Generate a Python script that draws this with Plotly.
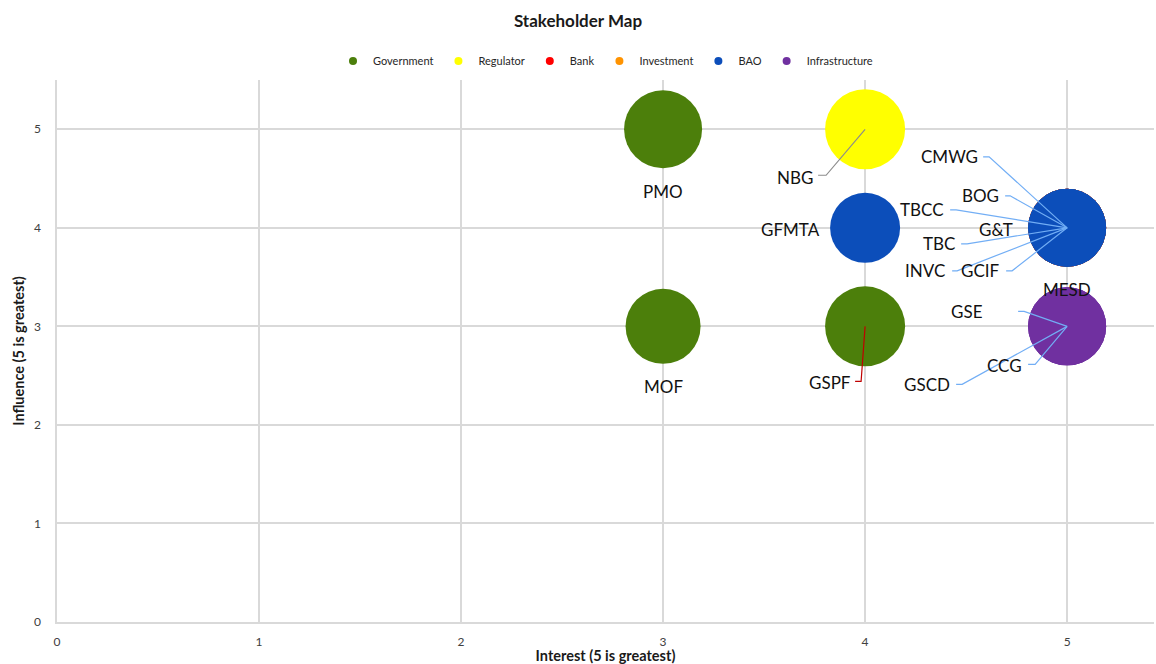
import plotly.graph_objects as go

# ---- data ----
names = ["PMO", "MOF", "GSPF", "NBG", "TBC", "BOG", "TBCC", "INVC", "GCIF",
         "CMWG", "G&T", "MESD", "GFMTA", "GSE", "CCG", "GSCD"]
category = ["Government", "Government", "Government", "Regulator", "Bank", "Bank", "Bank",
            "Investment", "Investment", "BAO", "BAO", "BAO", "BAO",
            "Infrastructure", "Infrastructure", "Infrastructure"]
interest = [3, 3, 4, 4, 5, 5, 5, 5, 5, 5, 5, 5, 4, 5, 5, 5]
influence = [5, 3, 3, 5, 4, 4, 4, 4, 4, 4, 4, 4, 4, 3, 3, 3]
bubble = [78, 75, 80, 80, 78, 78, 78, 78, 78, 78, 78, 78, 70, 78, 78, 78]

categories = ["Government", "Regulator", "Bank", "Investment", "BAO", "Infrastructure"]
colors = ["#4C7F0B", "#FFFF00", "#FF0000", "#FF9300", "#0C4EBA", "#7030A0"]

x_ticks = [0, 1, 2, 3, 4, 5]
y_ticks = [0, 1, 2, 3, 4, 5]

# ---- label placement (pixel offsets from bubble centre, screen y down) ----
label_dx = [0, 0, -35, -70, -128, -87, -145, -142, -87, -118, -71, 0, -75, -100, -63, -140]
label_dy = [62, 60, 56, 48, 16, -32, -18, 43, 43, -71, 2, 62, 2, -15, 39, 58]
# leader lines: start of stub next to the label, elbow at stub end (pixels, screen y down)
stub_x = [None, None, -10, -47, -106, -62, -117, -115, -61, -84, None, None, None, -49, -39, -111]
elbow_x = [None, None, -4, -39, -100, -57, -111, -110, -55, -78, None, None, None, -43, -32, -105]
stub_y = [None, None, 55, 46, 16, -32, -18, 43, 43, -71, None, None, None, -15, 38, 58]
leader = [None, None, "#C00000", "#8C8C8C", "#72AEF5", "#72AEF5", "#72AEF5", "#72AEF5",
          "#72AEF5", "#72AEF5", None, None, None, "#72AEF5", "#72AEF5", "#72AEF5"]

FONT = "Lato, 'Open Sans', sans-serif"

fig = go.Figure()
for cat, col in zip(categories, colors):
    idx = [i for i, c in enumerate(category) if c == cat]
    if idx:
        fig.add_trace(go.Scatter(
            x=[interest[i] for i in idx],
            y=[influence[i] for i in idx],
            text=[names[i] for i in idx],
            mode="markers",
            name=cat,
            showlegend=False,
            legendgroup=cat,
            marker=dict(size=[bubble[i] for i in idx], sizemode="diameter",
                        color=col, opacity=1, line=dict(width=0)),
            hovertemplate="%{text}<extra>" + cat + "</extra>",
        ))
# legend entries with small symbols
for cat, col in zip(categories, colors):
    fig.add_trace(go.Scatter(x=[None], y=[None], mode="markers", name=cat, legendgroup=cat,
                             marker=dict(size=8, color=col), showlegend=True))

for i, n in enumerate(names):
    fig.add_annotation(x=interest[i], y=influence[i], text=n, showarrow=False,
                       xshift=label_dx[i], yshift=-label_dy[i],
                       font=dict(family=FONT, size=17, color="#111111"))
    if leader[i]:
        path = "M {} {} L {} {} L 0 0".format(stub_x[i], -stub_y[i], elbow_x[i], -stub_y[i])
        fig.add_shape(type="path", path=path, xsizemode="pixel", ysizemode="pixel",
                      xanchor=interest[i], yanchor=influence[i], xref="x", yref="y",
                      line=dict(color=leader[i], width=1.2), layer="above")

fig.update_layout(
    width=1156, height=664,
    margin=dict(l=57, r=2, t=80, b=42),
    paper_bgcolor="white", plot_bgcolor="white",
    font=dict(family=FONT, size=12, color="#404040"),
    title=dict(text="<b>Stakeholder Map</b>", x=0.5, xanchor="center", y=0.969, yanchor="middle",
               font=dict(family=FONT, size=17, color="#1a1a1a")),
    legend=dict(orientation="h", x=0.5, xanchor="center", y=1.035, yanchor="middle",
                font=dict(family=FONT, size=11, color="#262626"),
                itemwidth=30, traceorder="normal"),
    showlegend=True,
)
fig.update_xaxes(range=[0, 5.43], tickvals=x_ticks, ticktext=[str(v) for v in x_ticks],
                 showgrid=True, gridcolor="#D9D9D9", gridwidth=1.5, zeroline=False,
                 showline=True, linecolor="#D9D9D9", linewidth=1.5, ticks="", ticklabelstandoff=8,
                 title=dict(text="<b>Interest (5 is greatest)</b>", standoff=4,
                            font=dict(family=FONT, size=14.5, color="#1a1a1a")))
fig.update_yaxes(range=[0, 5.5], tickvals=y_ticks, ticktext=[str(v) for v in y_ticks],
                 showgrid=True, gridcolor="#D9D9D9", gridwidth=1.5, zeroline=False,
                 showline=True, linecolor="#D9D9D9", linewidth=1.5, ticks="", ticklabelstandoff=12,
                 title=dict(text="<b>Influence (5 is greatest)</b>", standoff=6,
                            font=dict(family=FONT, size=14.5, color="#1a1a1a")))

fig.write_html("out.html")
